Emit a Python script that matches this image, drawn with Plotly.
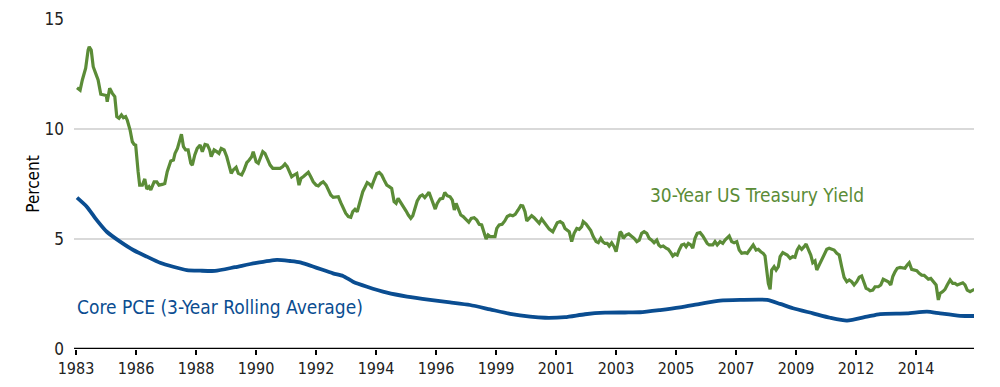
import plotly.graph_objects as go

# x = months since start of series (Jan 1983 = 0)
yield_month = [
    0.0, 1.4, 2.4, 3.9, 5.0, 5.5, 6.4, 7.3, 8.4, 9.5, 10.7, 12.2, 13.2, 13.6, 14.7, 15.9, 17.0, 17.9, 18.9, 20.0,
    20.9, 21.9, 22.6, 23.9, 24.9, 25.7, 26.4, 27.5, 28.2, 29.4, 30.5, 31.4, 32.4, 33.2, 34.7, 35.9, 36.9, 38.4, 39.5, 40.6,
    42.2, 43.4, 44.1, 45.2, 45.9, 47.0, 47.9, 48.9, 50.0, 51.2, 51.9, 53.0, 54.1, 55.4, 56.4, 57.6, 58.7, 59.7, 60.4, 61.7,
    62.9, 63.9, 64.9, 66.2, 67.4, 68.4, 69.4, 70.3, 71.6, 72.6, 74.1, 75.2, 76.4, 77.5, 78.6, 79.3, 80.6, 81.6, 82.7, 83.6,
    84.6, 85.6, 86.9, 88.1, 89.9, 91.4, 92.6, 93.6, 94.6, 95.5, 96.6, 97.7, 98.9, 99.9, 100.8, 101.8, 103.1, 104.1, 105.2, 106.3,
    107.6, 108.6, 109.7, 110.8, 112.1, 113.1, 114.2, 115.3, 116.6, 117.6, 118.7, 119.8, 120.9, 122.1, 123.2, 124.1, 125.1, 126.1, 127.4, 128.6,
    129.6, 130.6, 131.5, 132.6, 133.7, 134.9, 136.0, 137.1, 138.2, 139.4, 140.5, 141.6, 142.7, 143.6, 144.5, 145.7, 146.8, 148.1, 149.1, 150.2,
    151.1, 152.1, 153.1, 154.4, 155.4, 156.5, 157.4, 158.4, 159.4, 160.3, 161.2, 162.1, 163.4, 164.6, 165.5, 166.6, 167.9, 168.9, 169.8, 170.6,
    171.6, 172.7, 173.8, 175.1, 176.3, 177.4, 178.7, 179.9, 181.0, 182.1, 183.2, 184.1, 185.0, 185.9, 187.1, 188.1, 188.9, 190.0, 191.3, 192.5,
    193.6, 194.9, 196.1, 197.2, 198.5, 199.7, 200.6, 201.6, 202.4, 203.5, 204.6, 205.7, 206.9, 208.0, 209.1, 210.2, 211.4, 212.5, 214.1, 215.1,
    216.1, 217.4, 218.6, 219.6, 220.6, 221.5, 222.6, 223.7, 224.9, 226.0, 227.1, 227.8, 229.1, 230.1, 231.2, 232.3, 233.6, 234.6, 235.7, 236.6,
    237.6, 238.6, 239.5, 240.6, 241.7, 242.6, 243.6, 244.4, 245.1, 245.8, 247.1, 248.3, 249.4, 250.7, 251.9, 253.0, 254.1, 255.2, 256.4, 257.5,
    258.6, 259.7, 260.9, 261.8, 262.7, 263.8, 265.1, 266.1, 267.2, 268.1, 269.1, 270.1, 271.0, 272.1, 273.2, 274.1, 275.1, 276.2, 277.1, 278.1,
    279.1, 280.4, 281.6, 282.6, 283.6, 284.5, 286.1, 287.1, 288.1, 289.4, 290.6, 291.6, 292.6, 293.5, 294.6, 295.7, 296.9, 298.0, 299.1, 300.6,
    301.6, 302.5, 303.6, 304.3, 305.6, 306.6, 307.7, 308.8, 309.6, 310.4, 311.1, 311.9, 312.6, 313.7, 314.6, 315.6, 316.4, 317.6, 318.6, 319.6,
    320.9, 322.1, 323.1, 324.1, 325.0, 326.1, 327.2, 328.1, 329.1, 330.2, 331.1, 332.1, 332.9, 334.0, 335.1, 336.2, 337.4, 338.5, 339.6, 340.7,
    341.9, 343.0, 344.1, 345.2, 346.4, 347.5, 348.6, 349.7, 350.9, 352.0, 353.1, 354.2, 355.1, 356.1, 356.9, 358.1, 359.1, 360.6, 361.7, 362.8,
    364.1, 365.1, 366.2, 367.1, 368.1, 369.1, 370.4, 371.6, 372.6, 373.6, 374.5, 375.6, 376.7, 377.9, 379.0, 380.1, 381.2, 382.1, 383.1, 384.2,
    385.4, 386.6, 387.6, 388.4, 389.6, 390.6, 391.6, 392.9, 394.1, 395.1, 396.1, 397.4, 398.6, 399.6, 400.6, 401.9, 403.1, 403.8,
]
yield_30y = [
    11.88, 11.77, 12.23, 12.76, 13.59, 13.74, 13.59, 12.83, 12.53, 12.23, 11.58, 11.55, 11.52, 11.24, 11.85, 11.62, 11.47, 10.56, 10.49, 10.64,
    10.51, 10.56, 10.41, 9.95, 9.42, 9.30, 9.27, 8.06, 7.45, 7.45, 7.73, 7.27, 7.38, 7.23, 7.60, 7.60, 7.45, 7.48, 7.52, 8.06,
    8.55, 8.59, 8.89, 9.12, 9.42, 9.76, 9.20, 9.05, 9.05, 8.44, 8.36, 8.82, 9.12, 9.27, 8.97, 9.30, 9.27, 9.05, 8.74, 9.05,
    8.97, 8.89, 9.12, 9.05, 8.74, 8.29, 7.98, 8.14, 8.26, 7.98, 7.91, 8.14, 8.47, 8.59, 8.74, 8.97, 8.51, 8.44, 8.74, 8.97,
    8.89, 8.67, 8.36, 8.21, 8.21, 8.21, 8.29, 8.41, 8.29, 8.06, 7.83, 7.91, 7.98, 7.45, 7.76, 7.83, 7.95, 8.03, 7.83, 7.60,
    7.45, 7.41, 7.53, 7.60, 7.45, 7.23, 7.00, 6.89, 6.89, 6.92, 6.65, 6.39, 6.17, 6.02, 5.99, 6.24, 6.35, 6.24, 6.77, 7.15,
    7.35, 7.56, 7.50, 7.38, 7.68, 7.98, 8.03, 7.91, 7.68, 7.45, 7.38, 7.30, 6.70, 6.62, 6.85, 6.67, 6.47, 6.27, 6.09, 5.94,
    6.06, 6.47, 6.73, 6.95, 7.00, 6.88, 7.00, 7.12, 6.85, 6.58, 6.36, 6.62, 6.82, 6.85, 7.11, 6.97, 6.92, 6.77, 6.32, 6.62,
    6.39, 6.09, 6.02, 5.86, 5.76, 5.94, 5.97, 5.86, 5.67, 5.64, 5.33, 5.00, 5.18, 5.11, 5.11, 5.11, 5.48, 5.64, 5.67, 5.82,
    6.02, 6.09, 6.06, 6.12, 6.32, 6.52, 6.50, 6.24, 5.82, 5.97, 6.06, 5.97, 5.82, 5.71, 5.91, 5.76, 5.56, 5.45, 5.33, 5.56,
    5.74, 5.79, 5.71, 5.48, 5.41, 5.33, 4.88, 5.26, 5.48, 5.44, 5.56, 5.79, 5.68, 5.56, 5.38, 5.11, 4.88, 4.83, 5.03, 4.88,
    4.80, 4.80, 4.68, 4.83, 4.65, 4.42, 4.88, 5.33, 5.26, 5.03, 5.18, 5.23, 5.14, 5.03, 4.88, 4.95, 5.26, 5.33, 5.26, 5.03,
    4.95, 4.83, 4.95, 4.73, 4.65, 4.68, 4.58, 4.53, 4.38, 4.23, 4.32, 4.27, 4.50, 4.73, 4.77, 4.65, 4.80, 4.73, 4.58, 5.03,
    5.26, 5.29, 5.14, 4.95, 4.80, 4.73, 4.73, 4.88, 4.73, 4.88, 4.80, 4.95, 5.03, 5.14, 4.88, 4.83, 4.88, 4.50, 4.35, 4.38,
    4.35, 4.50, 4.65, 4.73, 4.50, 4.53, 4.42, 4.35, 4.23, 3.51, 2.98, 2.71, 3.59, 3.74, 3.59, 3.74, 4.20, 4.38, 4.32, 4.27,
    4.12, 4.20, 4.17, 4.50, 4.65, 4.53, 4.65, 4.77, 4.53, 4.27, 3.92, 4.00, 3.59, 3.82, 4.05, 4.27, 4.53, 4.58, 4.53, 4.50,
    4.35, 4.27, 3.74, 3.26, 3.06, 3.14, 3.06, 2.91, 3.06, 3.26, 3.32, 2.98, 2.76, 2.71, 2.65, 2.68, 2.83, 2.83, 2.91, 3.17,
    3.11, 3.06, 2.91, 3.29, 3.51, 3.67, 3.71, 3.67, 3.67, 3.82, 3.92, 3.62, 3.59, 3.56, 3.44, 3.36, 3.35, 3.26, 3.17, 3.21,
    3.06, 2.91, 2.23, 2.53, 2.61, 2.71, 2.91, 3.14, 2.98, 2.98, 2.91, 2.98, 3.01, 2.91, 2.68, 2.61, 2.65, 2.71,
]

pce_month = [
    0.0, 4.4, 8.9, 13.4, 19.4, 25.3, 31.4, 37.4, 43.3, 49.4, 55.4, 62.1, 71.1, 80.1, 90.0, 95.9, 100.4, 115.2, 119.7, 124.2,
    130.5, 139.5, 148.5, 158.9, 167.9, 176.9, 185.9, 194.9, 203.9, 210.6, 219.6, 228.6, 237.6, 246.6, 253.4, 262.4, 271.4, 280.4, 289.4, 298.4,
    310.5, 316.4, 322.2, 331.2, 338.9, 346.5, 355.5, 361.4, 373.5, 382.5, 388.4, 397.4, 403.8,
]
core_pce_3y = [
    6.88, 6.47, 5.86, 5.33, 4.88, 4.50, 4.20, 3.92, 3.74, 3.59, 3.56, 3.55, 3.72, 3.90, 4.05, 4.00, 3.94, 3.44, 3.32, 3.06,
    2.83, 2.56, 2.38, 2.23, 2.12, 2.00, 1.80, 1.60, 1.47, 1.42, 1.45, 1.58, 1.65, 1.66, 1.67, 1.77, 1.89, 2.05, 2.20, 2.23,
    2.23, 2.05, 1.85, 1.62, 1.42, 1.29, 1.47, 1.59, 1.62, 1.70, 1.62, 1.51, 1.50,
]

tick_labels = ["1983", "1986", "1988", "1990", "1992", "1994", "1996", "1999",
               "2001", "2003", "2005", "2007", "2009", "2012", "2014"]
tick_step = 27
tick_positions = [-0.45 + tick_step * i for i in range(len(tick_labels))]

GREEN = "#5b8c37"
BLUE = "#0a4d91"
FONT = "DejaVu Sans Condensed, Liberation Sans Narrow, Arial Narrow, sans-serif"

fig = go.Figure()
fig.add_trace(go.Scatter(x=pce_month, y=core_pce_3y, mode="lines",
                         line=dict(color=BLUE, width=3.8, shape="spline", smoothing=0.6),
                         name="Core PCE (3-Year Rolling Average)", hoverinfo="skip"))
fig.add_trace(go.Scatter(x=yield_month, y=yield_30y, mode="lines",
                         line=dict(color=GREEN, width=3.2),
                         name="30-Year US Treasury Yield", hoverinfo="skip"))

fig.add_annotation(x=257.5, y=7.0, xref="x", yref="y", text="30-Year US Treasury Yield",
                   showarrow=False, xanchor="left", yanchor="middle", borderpad=0,
                   font=dict(family=FONT, size=19, color=GREEN))
fig.add_annotation(x=-0.6, y=1.91, xref="x", yref="y", text="Core PCE (3-Year Rolling Average)",
                   showarrow=False, xanchor="left", yanchor="middle", borderpad=0,
                   font=dict(family=FONT, size=19, color=BLUE))

# page body has an 8px default margin, so the figure is sized to fit the 1000x387 window
fig.update_layout(
    width=992, height=379,
    margin=dict(l=66, r=26, t=11, b=38, autoexpand=False),
    paper_bgcolor="white", plot_bgcolor="white",
    showlegend=False,
    font=dict(family=FONT, size=16, color="#222222"),
    xaxis=dict(range=[-1.35, 403.65], tickmode="array", tickvals=tick_positions, ticktext=tick_labels,
               showgrid=False, zeroline=False, showline=False, automargin=False,
               ticks="outside", ticklen=5, tickwidth=1.5, tickcolor="black",
               tickfont=dict(family=FONT, size=16, color="#222222")),
    yaxis=dict(range=[0, 15], tickvals=[0, 5, 10, 15], showgrid=True, gridcolor="#d9d9d9", gridwidth=1.5,
               zeroline=False, showline=False, ticks="", automargin=False, ticklabelstandoff=9,
               title=dict(text="Percent", font=dict(family=FONT, size=17, color="black"), standoff=0),
               tickfont=dict(family=FONT, size=17, color="#222222")),
    shapes=[dict(type="line", xref="paper", yref="y", x0=0, x1=1, y0=0, y1=0,
                 line=dict(color="black", width=2.5))],
)

fig.write_html("out.html")
